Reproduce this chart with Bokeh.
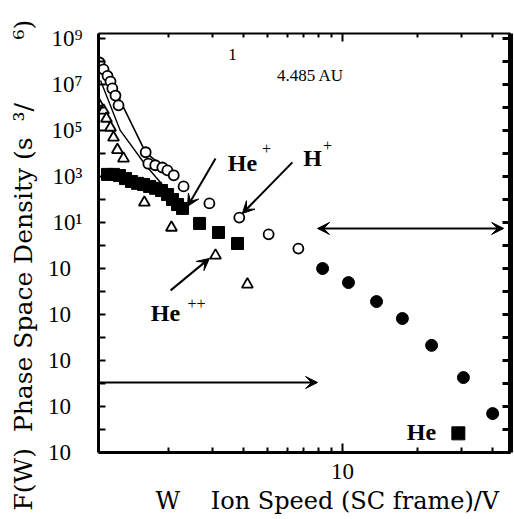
from bokeh.plotting import figure
from bokeh.models import LogAxis, FixedTicker, Label, Arrow, VeeHead, Title
from bokeh.embed import file_html
from bokeh.resources import INLINE

# ---- data ----
# H+ open circles
hp_open_w = [1.057, 1.097, 1.138, 1.17, 1.19, 1.225, 1.26, 1.62, 1.66, 1.77, 1.89,
             1.98, 2.10, 2.30, 2.92, 3.85, 5.05, 6.65]
hp_open_f = [8.7e7, 4.4e7, 2.3e7, 1.3e7, 6.5e6, 3.2e6, 1.2e6, 1.1e4, 3.5e3, 3.0e3, 2.4e3,
             1.8e3, 1.1e3, 3.6e2, 66, 16, 3.0, 0.72]
# H+ filled circles
hp_fill_w = [8.32, 10.57, 13.7, 17.4, 22.8, 30.6, 40.1]
hp_fill_f = [0.098, 0.024, 3.6e-3, 6.6e-4, 4.5e-5, 1.8e-6, 4.9e-8]
# He+ filled squares
hep_w = [1.138, 1.203, 1.271, 1.344, 1.421, 1.502, 1.588, 1.679, 1.775, 1.876, 1.983,
         2.076, 2.175, 2.278, 2.666, 3.177, 3.787]
hep_f = [1.2e3, 1.2e3, 1.07e3, 7.9e2, 5.9e2, 4.9e2, 4.4e2, 3.6e2, 3.0e2, 2.4e2, 1.6e2,
         98, 59, 40, 8.9, 3.6, 1.2]
# He (bottom) filled square
he_w = [29.2]
he_f = [6.8e-9]
# He++ open triangles
hepp_w = [1.04, 1.097, 1.127, 1.17, 1.203, 1.247, 1.319, 1.60, 2.056, 3.09, 4.15]
hepp_f = [1.6e6, 7.2e5, 3.2e5, 1.3e5, 4.8e4, 1.4e4, 5.9e3, 72, 5.9, 0.36, 0.020]
# model curves
curve_a_w = [1.067, 1.62, 2.13]
curve_a_f = [1.07e8, 1.07e4, 9.8e2]
curve_b_w = [1.067, 1.28, 1.62, 2.23]
curve_b_f = [1.45e7, 9.8e4, 3.0e3, 54]
# pointer arrows (start w, start f, end w, end f)
arrow_hep = [3.09, 5.9e3, 2.385, 49]
arrow_hp = [6.29, 4.0e3, 3.96, 24]
arrow_hepp = [2.04, 0.011, 2.92, 0.27]
arrow_double = [7.94, 5.4, 44.4, 5.4]
arrow_right = [1.047, 1.1e-6, 7.94, 1.1e-6]

# ticks
NB = "\u00a0"
y_tick_values = [10.0 ** k for k in range(-9, 10)]
y_tick_labels = ["10" + NB * 2, "", "10" + NB * 2, "", "10" + NB * 2, "", "10" + NB * 2, "",
                 "10" + NB * 2, "", "10¹", "", "10³", "", "10⁵", "", "10⁷", "", "10⁹"]
x_major_ticks = [10]
x_minor_ticks = [2, 3, 4, 5, 6, 7, 8, 9, 20, 30, 40]
x_tick_labels = ["10"]

SERIF = "Liberation Serif"
LABF = "DejaVu Serif"

x_title = NB * 6 + "W" + NB * 4 + "Ion Speed (SC frame)/V"
y_title = "F(W)" + NB * 2 + "Phase Space Density (s" + NB * 2 + "³/" + NB * 8 + "⁶)"

p = figure(width=514, height=519, x_axis_type="log", y_axis_type="log",
           x_range=(1.047, 47.3), y_range=(1e-9, 10 ** 9.2),
           output_backend="svg", toolbar_location=None,
           min_border_left=98, min_border_right=4, min_border_top=33, min_border_bottom=67)
p.outline_line_color = None
p.grid.visible = False
p.background_fill_color = "white"
p.border_fill_color = "white"

# bottom axis
xa = p.xaxis[0]
xa.ticker = FixedTicker(ticks=x_major_ticks, minor_ticks=x_minor_ticks)
xa.major_label_overrides = {t: s for t, s in zip(x_major_ticks, x_tick_labels)}
xa.axis_line_width = 3
xa.major_tick_in = 9
xa.major_tick_out = 0
xa.minor_tick_in = 5
xa.minor_tick_out = 0
xa.major_tick_line_width = 2
xa.minor_tick_line_width = 2
xa.major_label_text_font = SERIF
xa.major_label_text_font_size = "23px"
xa.major_label_text_color = "black"
xa.major_label_standoff = 11
xa.axis_label = x_title
xa.axis_label_text_font = LABF
xa.axis_label_text_font_size = "24px"
xa.axis_label_text_font_style = "normal"
xa.axis_label_text_color = "black"
xa.axis_label_standoff = 5

# left axis
ya = p.yaxis[0]
ya.ticker = FixedTicker(ticks=y_tick_values)
ya.major_label_overrides = {t: s for t, s in zip(y_tick_values, y_tick_labels)}
ya.axis_line_width = 3
ya.major_tick_in = 7
ya.major_tick_out = 0
ya.minor_tick_line_color = None
ya.major_tick_line_width = 2
ya.major_label_text_font = SERIF
ya.major_label_text_font_size = "23px"
ya.major_label_text_color = "black"
ya.major_label_standoff = 16

# y title as a side-panel title so that it can start below the frame
yt = Title(text=y_title, align="left", offset=-58, vertical_align="middle",
           text_font=LABF, text_font_size="25px", text_font_style="normal",
           text_color="black", standoff=12)
p.add_layout(yt, "left")

# top axis
ta = LogAxis(ticker=FixedTicker(ticks=x_major_ticks, minor_ticks=x_minor_ticks),
             axis_line_width=2, major_tick_in=8, major_tick_out=0,
             minor_tick_in=4, minor_tick_out=0, major_tick_line_width=2,
             minor_tick_line_width=2, major_label_text_font_size="0px",
             major_label_text_color=None, major_label_standoff=0)
p.add_layout(ta, "above")

# right axis (thick)
ra = LogAxis(ticker=FixedTicker(ticks=y_tick_values),
             axis_line_width=5, major_tick_in=8, major_tick_out=0,
             minor_tick_line_color=None, major_tick_line_width=3,
             major_label_text_font_size="0px", major_label_text_color=None,
             major_label_standoff=0)
p.add_layout(ra, "right")

# curves
p.line(curve_a_w, curve_a_f, line_color="black", line_width=1.6)
p.line(curve_b_w, curve_b_f, line_color="black", line_width=1.4)

# markers
p.scatter(hep_w, hep_f, marker="square", size=12, fill_color="black", line_color="black")
p.scatter(he_w, he_f, marker="square", size=13, fill_color="black", line_color="black")
p.scatter(hp_fill_w, hp_fill_f, marker="circle", size=12, fill_color="black", line_color="black")
p.scatter(hp_open_w, hp_open_f, marker="circle", size=10, fill_color="white",
          line_color="black", line_width=1.8)
p.scatter(hepp_w, hepp_f, marker="triangle", size=11, fill_color="white",
          line_color="black", line_width=1.8)

# arrows
def head():
    return VeeHead(size=12, fill_color="black", line_color="black", line_width=1)

for a in (arrow_hep, arrow_hp, arrow_hepp, arrow_right):
    p.add_layout(Arrow(end=head(), x_start=a[0], y_start=a[1], x_end=a[2], y_end=a[3],
                       line_color="black", line_width=2))
p.add_layout(Arrow(start=head(), end=head(), x_start=arrow_double[0], y_start=arrow_double[1],
                   x_end=arrow_double[2], y_end=arrow_double[3],
                   line_color="black", line_width=2))

# texts inside the frame (screen units relative to the plot frame)
def lab(x, y, text, size, font=SERIF, style="normal"):
    p.add_layout(Label(x=x, y=y, x_units="screen", y_units="screen", text=text,
                       text_font=font, text_font_size=size, text_font_style=style,
                       text_align="center", text_baseline="middle", text_color="black"))

lab(134, 398, "1", "17px")
lab(212, 377, "4.485 AU", "17px")
lab(144, 290, "He", "24px", style="bold")
lab(168, 304, "+", "16px")
lab(214, 295, "H", "24px", style="bold")
lab(229, 307, "+", "16px")
lab(67, 140, "He", "24px", style="bold")
lab(98, 149, "++", "16px")
lab(323, 21, "He", "24px", style="bold")

open("out.html", "w").write(file_html(p, INLINE))
